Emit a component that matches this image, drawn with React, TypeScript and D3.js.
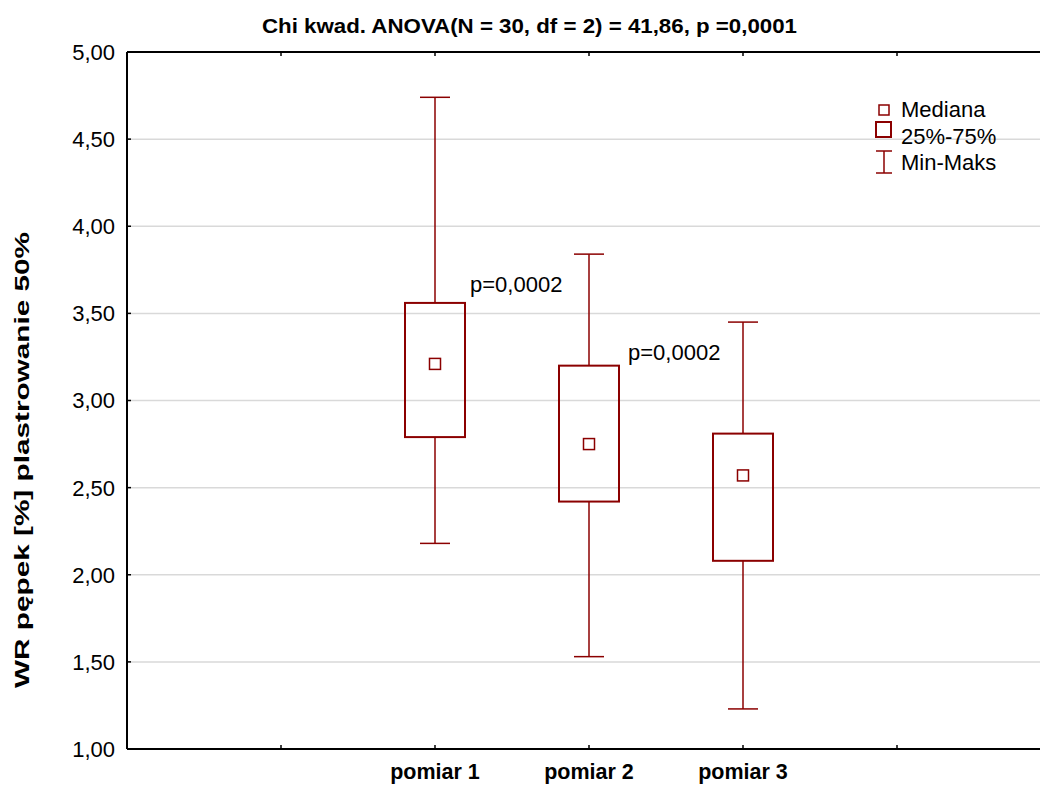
import React from "react";
import * as d3 from "d3";

const categories = ["pomiar 1", "pomiar 2", "pomiar 3"];
const catPositions = [2, 3, 4];
const minValues = [2.18, 1.53, 1.23];
const q1Values = [2.79, 2.42, 2.08];
const medianValues = [3.21, 2.75, 2.57];
const q3Values = [3.56, 3.2, 2.81];
const maxValues = [4.74, 3.84, 3.45];
const yTicks = [1.0, 1.5, 2.0, 2.5, 3.0, 3.5, 4.0, 4.5, 5.0];
const xTickPositions = [1, 2, 3, 4, 5];
const annotationTexts = ["p=0,0002", "p=0,0002"];
const annotationPositions = [2, 3];
const annotationValues = [3.62, 3.23];
const legendItems = ["Mediana", "25%-75%", "Min-Maks"];
const title = "Chi kwad. ANOVA(N = 30, df = 2) = 41,86, p =0,0001";
const yLabel = "WR pępek [%] plastrowanie 50%";

const W = 1040;
const H = 785;
const left = 127;
const top = 52;
const bottom = 749;
const COLOR = "#8b0000";
const FONT = "Arial, 'Liberation Sans', sans-serif";
const annotationDx = [35, 39];

export default function App() {
  const x = d3.scaleLinear().domain([0, 6]).range([left, left + 154 * 6]);
  const y = d3.scaleLinear().domain([1, 5]).range([bottom, top]);
  const fmt = (v: number) => d3.format(".2f")(v).replace(".", ",");
  const boxW = 60;
  const capW = 30;
  const medS = 11;

  return (
    <svg
      width={W}
      height={H}
      style={{ position: "absolute", left: 0, top: 0, background: "#fff", display: "block" }}
      fontFamily={FONT}
    >
      <rect x={0} y={0} width={W} height={H} fill="#fff" />
      {yTicks.slice(1, -1).map((t) => (
        <line key={"g" + t} x1={left} x2={W} y1={y(t)} y2={y(t)} stroke="#d9d9d9" strokeWidth={1.5} />
      ))}
      <line x1={left} x2={W} y1={top} y2={top} stroke="#000" strokeWidth={2} />
      <line x1={left} x2={W} y1={bottom} y2={bottom} stroke="#000" strokeWidth={2} />
      <line x1={left} x2={left} y1={top} y2={bottom} stroke="#000" strokeWidth={2} />
      {yTicks.map((t) => (
        <g key={"yt" + t}>
          <line x1={left} x2={left + 4} y1={y(t)} y2={y(t)} stroke="#000" strokeWidth={1.5} />
          <text x={left - 12} y={y(t)} dy="0.36em" textAnchor="end" fontSize={22} fill="#000">
            {fmt(t)}
          </text>
        </g>
      ))}
      {xTickPositions.map((p) => (
        <g key={"xt" + p}>
          <line x1={x(p)} x2={x(p)} y1={bottom} y2={bottom - 4} stroke="#000" strokeWidth={1.5} />
          <line x1={x(p)} x2={x(p)} y1={top} y2={top + 4} stroke="#000" strokeWidth={1.5} />
        </g>
      ))}
      {categories.map((c, i) => (
        <text
          key={"xl" + c}
          x={x(catPositions[i])}
          y={779}
          textAnchor="middle"
          fontSize={21.5}
          fontWeight="bold"
          fill="#000"
        >
          {c}
        </text>
      ))}
      {categories.map((c, i) => {
        const cx = x(catPositions[i]);
        return (
          <g key={"b" + c}>
            <line x1={cx} x2={cx} y1={y(maxValues[i])} y2={y(q3Values[i])} stroke={COLOR} strokeWidth={1.5} />
            <line x1={cx} x2={cx} y1={y(q1Values[i])} y2={y(minValues[i])} stroke={COLOR} strokeWidth={1.5} />
            <line x1={cx - capW / 2} x2={cx + capW / 2} y1={y(maxValues[i])} y2={y(maxValues[i])} stroke={COLOR} strokeWidth={1.5} />
            <line x1={cx - capW / 2} x2={cx + capW / 2} y1={y(minValues[i])} y2={y(minValues[i])} stroke={COLOR} strokeWidth={1.5} />
            <rect
              x={cx - boxW / 2}
              y={y(q3Values[i])}
              width={boxW}
              height={y(q1Values[i]) - y(q3Values[i])}
              fill="none"
              stroke={COLOR}
              strokeWidth={2}
            />
            <rect
              x={cx - medS / 2}
              y={y(medianValues[i]) - medS / 2}
              width={medS}
              height={medS}
              fill="none"
              stroke={COLOR}
              strokeWidth={1.5}
            />
          </g>
        );
      })}
      {annotationTexts.map((a, i) => (
        <text key={"a" + i} x={x(annotationPositions[i]) + annotationDx[i]} y={y(annotationValues[i])} fontSize={22} fill="#000">
          {a}
        </text>
      ))}
      <rect x={879} y={105} width={10} height={10} fill="none" stroke={COLOR} strokeWidth={1.5} />
      <rect x={876} y={122} width={15} height={15} fill="none" stroke={COLOR} strokeWidth={2} />
      <line x1={884} x2={884} y1={151} y2={173} stroke={COLOR} strokeWidth={1.5} />
      <line x1={876} x2={892} y1={151} y2={151} stroke={COLOR} strokeWidth={1.5} />
      <line x1={876} x2={892} y1={173} y2={173} stroke={COLOR} strokeWidth={1.5} />
      {legendItems.map((l, i) => (
        <text key={"l" + l} x={901} y={117 + i * 26.5} fontSize={22} fill="#000">
          {l}
        </text>
      ))}
      <text x={529.5} y={33} textAnchor="middle" fontSize={21} fontWeight="bold" fill="#000" textLength={535} lengthAdjust="spacingAndGlyphs">
        {title}
      </text>
      <text
        transform={`translate(29,460) rotate(-90)`}
        textAnchor="middle"
        fontSize={21}
        fontWeight="bold"
        fill="#000"
        textLength={456}
        lengthAdjust="spacingAndGlyphs"
      >
        {yLabel}
      </text>
    </svg>
  );
}
